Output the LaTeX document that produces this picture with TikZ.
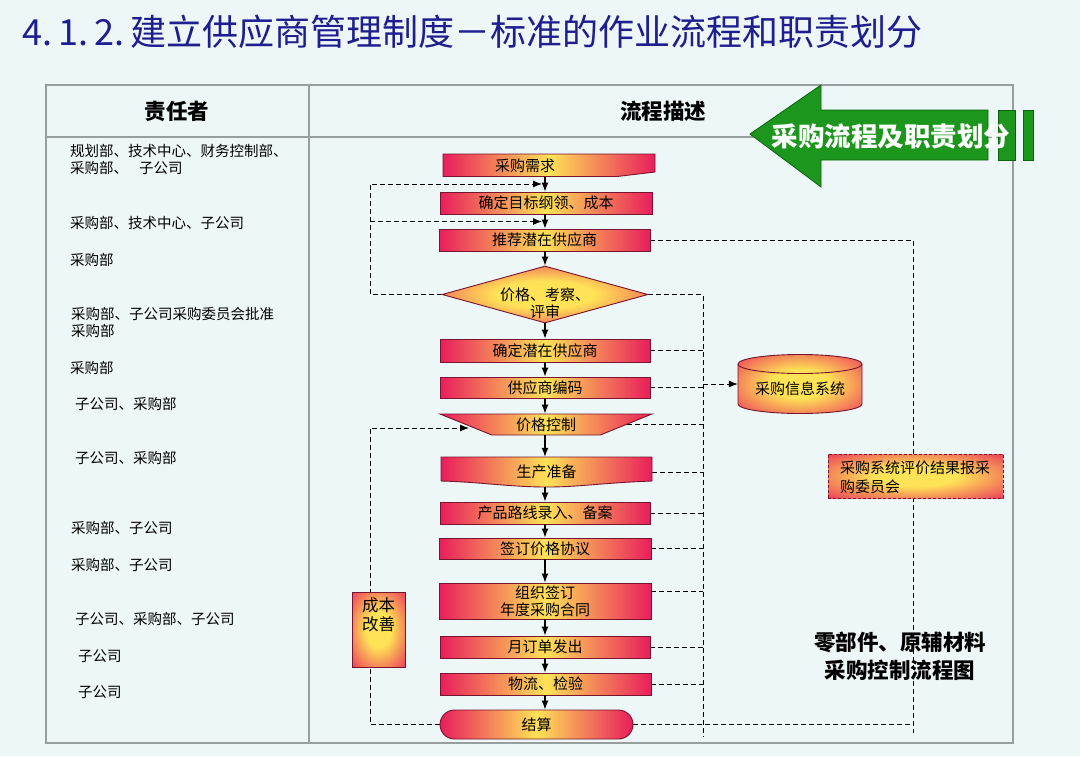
\documentclass[tikz,border=0pt]{standalone}
\usepackage{fontspec}
\setmainfont{Noto Sans CJK SC}
\usetikzlibrary{shapes.geometric,arrows.meta}
\definecolor{bgc}{RGB}{238,247,247}
\definecolor{tblgray}{RGB}{150,158,158}
\definecolor{titleblue}{RGB}{30,30,145}
\definecolor{cred}{RGB}{232,30,92}
\definecolor{cyel}{RGB}{255,226,86}
\definecolor{cedge}{RGB}{120,20,45}
\definecolor{agreen}{RGB}{28,150,28}
\definecolor{agreenedge}{RGB}{10,100,10}
\pgfdeclareradialshading{glow}{\pgfpoint{0bp}{0bp}}{color(0bp)=(cyel); color(12bp)=(cyel); color(40bp)=(cred); color(50bp)=(cred)}
\pgfdeclarelayer{back}
\pgfdeclarelayer{lines}
\pgfsetlayers{back,lines,main}
\tikzset{
  hshade/.style={left color=cred, right color=cred, middle color=cyel},
  flowbox/.style={draw=cedge, line width=0.9pt, hshade, rectangle, inner sep=0pt, align=center, font=\fontsize{15}{17}\selectfont},
  glowbox/.style={draw=cedge, line width=0.9pt, shading=glow, inner sep=0pt},
  flowarrow/.style={-{Latex[length=9pt,width=7pt]}, line width=1.2pt, black},
  dashline/.style={dash pattern=on 5pt off 3pt, line width=1pt, black},
  dasharrow/.style={dashline, -{Latex[length=9pt,width=7pt]}},
  who/.style={anchor=west, align=left, inner sep=0pt, font=\fontsize{14.5}{17}\selectfont},
  plain/.style={inner sep=0pt, align=center, font=\fontsize{15}{17}\selectfont},
  headtext/.style={inner sep=0pt, font=\fontsize{21.5}{24}\selectfont\bfseries},
}
\begin{document}
\begin{tikzpicture}[x=1pt,y=-1pt]
\useasboundingbox (0,0) rectangle (1080,756);
\begin{pgfonlayer}{back}
\fill[bgc] (0,0) rectangle (1080,756);
\draw[tblgray, line width=2.5pt] (46,85) rectangle (1013,743);
\draw[tblgray, line width=2.5pt] (46,137) -- (1013,137);
\draw[tblgray, line width=2.5pt] (309,85) -- (309,743);
\end{pgfonlayer}

% title
\node[anchor=west, text=titleblue, font=\fontsize{36}{40}\selectfont, inner sep=0pt] (title) at (22,32) {4.\,1.\,2.\,建立供应商管理制度－标准的作业流程和职责划分};

% header
\node[headtext] (hwho) at (177,111) {责任者};
\node[headtext] (hflow) at (663,111) {流程描述};

% responsible parties
\node[who] (r1) at (70,159.5) {规划部、技术中心、财务控制部、\\采购部、\hspace{11pt}子公司};
\node[who] (r2) at (70,223) {采购部、技术中心、子公司};
\node[who] (r3) at (70,260) {采购部};
\node[who] (r4) at (71,322.5) {采购部、子公司采购委员会批准\\采购部};
\node[who] (r5) at (70,368) {采购部};
\node[who] (r6) at (75,404) {子公司、采购部};
\node[who] (r7) at (75,458) {子公司、采购部};
\node[who] (r8) at (71,528) {采购部、子公司};
\node[who] (r9) at (71,565) {采购部、子公司};
\node[who] (r10) at (75,619) {子公司、采购部、子公司};
\node[who] (r11) at (78,656) {子公司};
\node[who] (r12) at (78,692) {子公司};

% flow shapes
\path[hshade, draw=cedge, line width=0.9pt] (443,154) -- (655,154) -- (655,172) -- (617,176.5) -- (443,176.5) -- cycle;
\node[plain, minimum width=212, minimum height=22.5] (b1) at (549,165.25) {};
\node[plain] (b1t) at (525,166) {采购需求};
\node[flowbox, minimum width=212, minimum height=22] (b2) at (546,203) {确定目标纲领、成本};
\node[flowbox, minimum width=211, minimum height=22] (b3) at (544.5,240) {推荐潜在供应商};
\node[diamond, draw=cedge, line width=0.9pt, shading=glow, minimum width=206, minimum height=57, inner sep=0pt] (d4) at (545,294.5) {};
\node[plain] (d4t) at (545,303) {价格、考察、\\评审};
\node[flowbox, minimum width=210, minimum height=23] (b5) at (545,350.5) {确定潜在供应商};
\node[flowbox, minimum width=210, minimum height=21] (b6) at (545,387.5) {供应商编码};
\node[trapezium, trapezium stretches=true, shape border rotate=180, trapezium left angle=26, trapezium right angle=26, minimum width=212, minimum height=21, draw=cedge, line width=0.9pt, hshade, inner sep=0pt, font=\fontsize{15}{17}\selectfont] (t7) at (546,424.5) {价格控制};
\path[hshade, draw=cedge, line width=0.9pt] (441,457) -- (652,457) -- (652,481) .. controls (600,483) and (580,487) .. (547,487) .. controls (510,487) and (480,482) .. (441,481) -- cycle;
\node[plain, minimum width=211, minimum height=30] (b8) at (546.5,472) {生产准备};
\node[flowbox, minimum width=210, minimum height=22] (b9) at (545,513) {产品路线录入、备案};
\node[flowbox, minimum width=212, minimum height=21] (b10) at (545,548.5) {签订价格协议};
\node[flowbox, minimum width=212, minimum height=36] (b11) at (545,601) {组织签订\\年度采购合同};
\node[flowbox, minimum width=210, minimum height=22] (b12) at (545,647) {月订单发出};
\node[flowbox, minimum width=211, minimum height=22] (b13) at (545.5,684) {物流、检验};
\node[flowbox, rounded corners=14.5pt, minimum width=193, minimum height=29] (b14) at (536.5,724.5) {结算};

% database cylinder
\path[shading=glow, draw=cedge, line width=0.9pt] (738,364) -- (738,404) arc[start angle=180, end angle=0, x radius=62, y radius=9.5] -- (862,364) arc[start angle=0, end angle=-180, x radius=62, y radius=9.5] -- cycle;
\draw[cedge, line width=0.9pt] (738,364) arc[start angle=180, end angle=0, x radius=62, y radius=9.5];
\node[plain, minimum width=124, minimum height=59] (cyl) at (800,384) {};
\node[plain] (cylt) at (800,389) {采购信息系统};

% evaluation report box
\node[draw=cedge, dash pattern=on 3pt off 2pt, line width=1pt, shading=glow, minimum width=175, minimum height=44, inner sep=0pt] (eval) at (915.5,476) {};
\node[anchor=west, align=left, inner sep=0pt, font=\fontsize{15}{19}\selectfont] (evalt) at (840,477.5) {采购系统评价结果报采\\购委员会};

% cost improvement box
\node[glowbox, minimum width=53, minimum height=75] (cost) at (378.5,629.5) {};
\node[plain, font=\fontsize{16.5}{18.5}\selectfont] (costt) at (378.5,615) {成本\\改善};

% caption
\node[font=\fontsize{21.5}{28}\selectfont\bfseries, align=center, inner sep=0pt] (caption) at (900,656) {零部件、原辅材料\\采购控制流程图};

% solid flow arrows
\coordinate (ax) at (545,0);
\foreach \a/\b in {b1/b2,b2/b3,b3/d4,d4/b5,b5/b6,b6/t7,t7/b8,b8/b9,b9/b10,b10/b11,b11/b12,b12/b13,b13/b14}
  \draw[flowarrow] (\a.south -| ax) -- (\b.north -| ax);

% dashed lines
\begin{pgfonlayer}{lines}
\coordinate (vL) at (370,0);
\coordinate (vR) at (703,0);
\coordinate (vRR) at (913,0);
\coordinate (j1) at (542,184);
\coordinate (j2) at (542,221.5);
\coordinate (t7in) at (469,428);
\draw[dasharrow] (d4.west) -| (vL |- j1) -- (j1);
\draw[dasharrow] (vL |- j2) -- (j2);
\draw[dashline] (b3.east) -| (913,733);
\draw[dashline] (d4.east) -| (703,737);
\foreach \n in {b5,b6,t7,b8,b9,b10,b12,b13}
  \draw[dashline] (\n.east) -- (\n.east -| vR);
\draw[dashline] ([yshift=-9pt]b11.north east) -- ([yshift=-9pt]b11.north east -| vR);
\draw[dashline] (b14.east) -- (b14.east -| vRR);
\draw[dasharrow] (cyl.west -| vR) -- (cyl.west);
\draw[dasharrow] (b14.west) -| (vL |- t7in) -- (t7in);
\end{pgfonlayer}

% green banner arrow
\path[fill=agreen, draw=agreenedge, line width=0.8pt] (750,134) -- (821,85) -- (821,110) -- (988,110) -- (988,160) -- (821,160) -- (821,187) -- cycle;
\path[fill=agreen, draw=agreenedge, line width=0.6pt] (998,110) rectangle (1015,160);
\path[fill=agreen, draw=agreenedge, line width=0.6pt] (1023,110) rectangle (1033,160);
\node[text=white, font=\fontsize{26.5}{28}\selectfont\bfseries, inner sep=0pt] (gtext) at (891,136) {采购流程及职责划分};
\end{tikzpicture}
\end{document}
